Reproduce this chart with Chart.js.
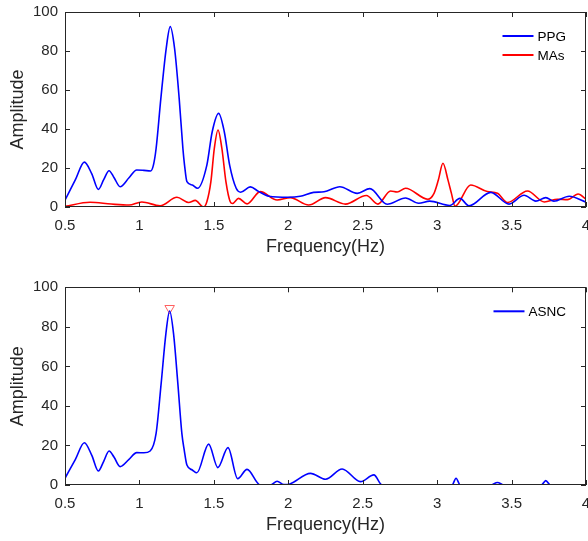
<!DOCTYPE html>
<html>
<head>
<meta charset="utf-8">
<script src="https://cdn.jsdelivr.net/npm/chart.js@4"></script>
<style>
  body { margin: 0; background: #fff; width: 588px; height: 541px; overflow: hidden; position: relative; }
  canvas { position: absolute; left: 0; }
  #top { top: 0; }
  #bottom { top: 278px; }
</style>
</head>
<body>
<canvas id="top" width="588" height="270"></canvas>
<canvas id="bottom" width="588" height="270"></canvas>
<script>
// tick labels
const xTicks = [0.5, 1, 1.5, 2, 2.5, 3, 3.5, 4];
const yTicks = [0, 20, 40, 60, 80, 100];

// top panel: PPG spectrum
const ppgFreq = [0.5, 0.57, 0.63, 0.68, 0.724, 0.76, 0.796, 0.83, 0.87, 0.93, 0.982, 1.03, 1.075, 1.094, 1.112, 1.144, 1.18, 1.207, 1.236, 1.267, 1.292, 1.303, 1.319, 1.355, 1.39, 1.453, 1.489, 1.532, 1.57, 1.606, 1.65, 1.68, 1.745, 1.8, 1.87, 2.0, 2.08, 2.17, 2.24, 2.346, 2.463, 2.548, 2.664, 2.788, 2.876, 2.95, 3.085, 3.153, 3.214, 3.36, 3.483, 3.584, 3.663, 3.73, 3.784, 3.887, 4.0];
const ppgAmp = [3.5, 14, 23, 17, 9, 14, 18.6, 15, 10.4, 15, 19, 18.8, 18.5, 21.5, 30, 55.7, 81.4, 92.5, 81.4, 55.7, 30, 21.5, 13, 11.3, 9.6, 21.5, 38.6, 48, 38.6, 21.5, 9.6, 7.6, 10.3, 8, 5.5, 5, 5.5, 7.5, 7.8, 10.4, 7, 9.4, 1.4, 4.6, 1.9, 3, 0.8, 4.4, 0.6, 7.5, 1.5, 6, 3, 4.8, 3, 5.5, 2.5];

// top panel: motion artifacts
const maFreq = [0.5, 0.668, 0.81, 0.93, 1.016, 1.139, 1.252, 1.33, 1.375, 1.431, 1.453, 1.48, 1.503, 1.528, 1.554, 1.581, 1.61, 1.625, 1.666, 1.723, 1.812, 1.925, 2.014, 2.137, 2.25, 2.384, 2.525, 2.602, 2.687, 2.732, 2.788, 2.938, 2.979, 3.008, 3.039, 3.073, 3.096, 3.12, 3.225, 3.337, 3.405, 3.472, 3.607, 3.72, 3.809, 3.876, 3.947, 4.0];
const maAmp = [0.3, 2.4, 1.5, 1.0, 2.6, 0.6, 5, 2.3, 3.4, 0, 2.7, 13, 30, 39.5, 30, 13, 2.7, 1.8, 4.4, 1.6, 7.9, 3.6, 4.8, 1, 4.8, 1.5, 5.9, 1.5, 8.2, 7.7, 9.6, 4, 7, 13.8, 22.4, 13.8, 7, 0.4, 11.3, 7.9, 7, 2.3, 8.2, 2.6, 4, 3.8, 6.7, 4];

// bottom panel: ASNC output
const asncFreq = [0.5, 0.57, 0.63, 0.68, 0.724, 0.76, 0.796, 0.83, 0.87, 0.93, 0.982, 1.03, 1.072, 1.112, 1.146, 1.178, 1.203, 1.229, 1.258, 1.285, 1.301, 1.319, 1.355, 1.386, 1.465, 1.527, 1.595, 1.66, 1.723, 1.812, 1.88, 1.925, 1.97, 2.01, 2.149, 2.25, 2.362, 2.485, 2.575, 2.63, 3.1, 3.127, 3.155, 3.36, 3.405, 3.45, 3.7, 3.73, 3.76, 4.0];
const asncAmp = [3.4, 13, 21.4, 15, 7.1, 12, 17.2, 14, 9.3, 13, 16.4, 16.3, 17.2, 26.1, 51.4, 76.7, 88, 76.7, 51.4, 26.1, 17.7, 10.1, 7.6, 6.2, 20.7, 8.8, 18.9, 3.2, 7.9, 0, 0, 1.9, 0.2, 0.5, 5.9, 2.9, 8.1, 1.7, 5.1, 0, 0, 3.4, 0, 0, 1.3, 0, 0, 2.2, 0, 0];

// detected peak
const peakFreq = [1.203];
const peakAmp = [89.4];

const FONT = "'Liberation Sans', Arial, Helvetica, sans-serif";
const INK = '#262626';

function pts(xs, ys) {
  return xs.map((x, i) => ({ x: x, y: ys[i] }));
}

// MATLAB-like box with inward ticks and a plain legend
const framePlugin = {
  id: 'frame',
  afterDraw(chart) {
    const { ctx, chartArea: a, scales: { x, y } } = chart;
    ctx.save();
    ctx.strokeStyle = INK;
    ctx.lineWidth = 1;
    ctx.strokeRect(Math.round(a.left) + 0.5, Math.round(a.top) + 0.5, Math.round(a.width) - 1, Math.round(a.height) - 1);
    ctx.beginPath();
    xTicks.forEach(v => {
      const px = Math.round(x.getPixelForValue(v)) + 0.5;
      ctx.moveTo(px, a.bottom); ctx.lineTo(px, a.bottom - 5);
      ctx.moveTo(px, a.top); ctx.lineTo(px, a.top + 5);
    });
    yTicks.forEach(v => {
      const py = Math.round(y.getPixelForValue(v)) + 0.5;
      ctx.moveTo(a.left, py); ctx.lineTo(a.left + 5, py);
      ctx.moveTo(a.right, py); ctx.lineTo(a.right - 5, py);
    });
    ctx.stroke();

    const items = chart.data.datasets.filter(d => d.label);
    ctx.font = '13.5px ' + FONT;
    const w = Math.max(...items.map(d => ctx.measureText(d.label).width));
    const tx = a.right - 20 - w;
    ctx.textBaseline = 'middle';
    items.forEach((d, i) => {
      const ly = a.top + 24 + i * 19;
      ctx.strokeStyle = d.borderColor;
      ctx.lineWidth = 2;
      ctx.beginPath();
      ctx.moveTo(tx - 35, ly); ctx.lineTo(tx - 4, ly);
      ctx.stroke();
      ctx.fillStyle = '#000';
      ctx.fillText(d.label, tx, ly + 1);
    });
    ctx.restore();
  }
};

function makeOptions(padTop) {
  return {
    responsive: false,
    animation: false,
    layout: { autoPadding: false, padding: { top: padTop, left: 0, right: 2, bottom: 0 } },
    plugins: { legend: { display: false }, tooltip: { enabled: false } },
    elements: { point: { radius: 0 } },
    scales: {
      x: {
        type: 'linear', min: 0.5, max: 4,
        afterBuildTicks: s => { s.ticks = xTicks.map(v => ({ value: v })); },
        afterFit: s => { s.height = 63; s.paddingLeft = 0; s.paddingRight = 0; },
        grid: { display: false, drawTicks: false },
        border: { display: false },
        ticks: { color: INK, font: { family: FONT, size: 15 }, padding: 10, maxRotation: 0, callback: v => String(v) },
        title: { display: true, text: 'Frequency(Hz)', color: INK, font: { family: FONT, size: 18 }, padding: { top: 0, bottom: 12 } }
      },
      y: {
        min: 0, max: 100,
        afterBuildTicks: s => { s.ticks = yTicks.map(v => ({ value: v })); },
        afterFit: s => { s.width = 65; s.paddingTop = 0; s.paddingBottom = 0; },
        grid: { display: false, drawTicks: false },
        border: { display: false },
        ticks: { color: INK, font: { family: FONT, size: 15 }, padding: 7, callback: v => String(v) },
        title: { display: true, text: 'Amplitude', color: INK, font: { family: FONT, size: 18 }, padding: { top: 7, bottom: 0 } }
      }
    }
  };
}

new Chart(document.getElementById('top'), {
  type: 'line',
  data: {
    datasets: [
      { label: 'PPG', data: pts(ppgFreq, ppgAmp), borderColor: '#0000ff', borderWidth: 1.6, cubicInterpolationMode: 'monotone', fill: false },
      { label: 'MAs', data: pts(maFreq, maAmp), borderColor: '#ff0000', borderWidth: 1.6, cubicInterpolationMode: 'monotone', fill: false }
    ]
  },
  options: makeOptions(12),
  plugins: [framePlugin]
});

new Chart(document.getElementById('bottom'), {
  type: 'line',
  data: {
    datasets: [
      { label: 'ASNC', data: pts(asncFreq, asncAmp), borderColor: '#0000ff', borderWidth: 1.6, cubicInterpolationMode: 'monotone', fill: false },
      { data: pts(peakFreq, peakAmp), showLine: false, clip: false, pointStyle: 'triangle', rotation: 180, pointRadius: 5.5, pointBorderColor: '#ff6060', pointBackgroundColor: 'rgba(0,0,0,0)', pointBorderWidth: 1 }
    ]
  },
  options: makeOptions(9.3),
  plugins: [framePlugin]
});
</script>
</body>
</html>
